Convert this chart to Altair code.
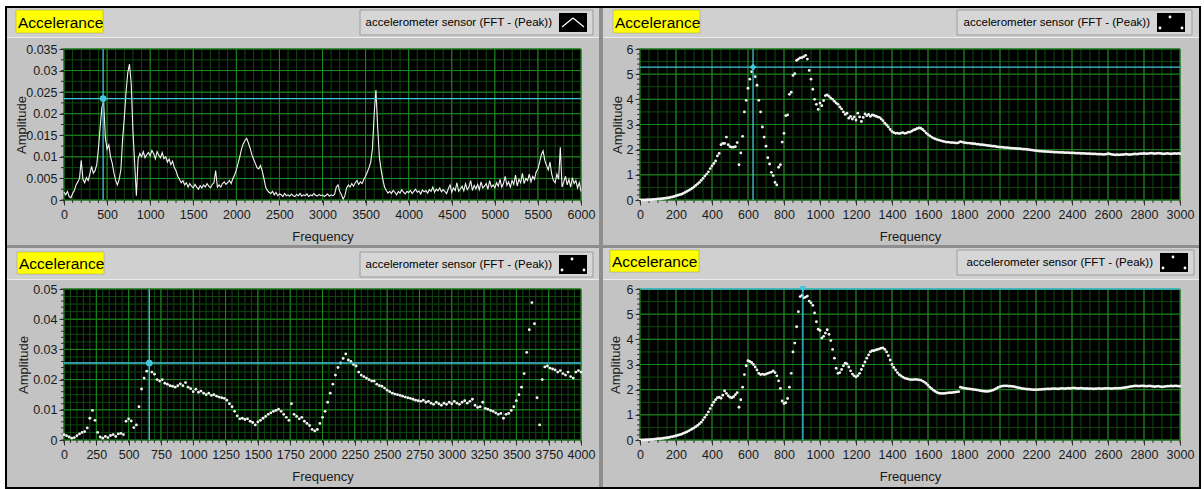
import altair as alt
import numpy as np
import pandas as pd

NARROW = "Liberation Sans, Arial, sans-serif"
SANS = "Liberation Sans, Arial, sans-serif"

# ---------------- data ----------------
# top-left: continuous FFT line, 0..6000 Hz every 20 Hz
TL_STEP = 20
TL_AMP = [
    0.0018, 0.0012, 0.0020, 0.0008, 0.0005, 0.0015, 0.0022, 0.0035, 0.0042, 0.0050,
    0.0092, 0.0048, 0.0040, 0.0052, 0.0045, 0.0060, 0.0078, 0.0062, 0.0068, 0.0082,
    0.0120, 0.0170, 0.0215, 0.0228, 0.0145, 0.0118, 0.0128, 0.0100, 0.0085, 0.0062,
    0.0045, 0.0035, 0.0048, 0.0070, 0.0140, 0.0190, 0.0250, 0.0295, 0.0315, 0.0270,
    0.0160, 0.0085, 0.0010, 0.0095, 0.0108, 0.0100, 0.0112, 0.0098, 0.0105, 0.0110,
    0.0102, 0.0115, 0.0108, 0.0095, 0.0112, 0.0104, 0.0098, 0.0110, 0.0096, 0.0100,
    0.0088, 0.0095, 0.0082, 0.0090, 0.0075, 0.0068, 0.0055, 0.0048, 0.0040, 0.0045,
    0.0035, 0.0040, 0.0030, 0.0038, 0.0032, 0.0028, 0.0036, 0.0030, 0.0025, 0.0033,
    0.0028, 0.0035, 0.0030, 0.0038, 0.0032, 0.0028, 0.0036, 0.0040, 0.0068, 0.0030,
    0.0035, 0.0030, 0.0038, 0.0042, 0.0036, 0.0040, 0.0045, 0.0038, 0.0050, 0.0058,
    0.0070, 0.0085, 0.0100, 0.0118, 0.0130, 0.0138, 0.0143, 0.0132, 0.0120, 0.0105,
    0.0095, 0.0085, 0.0075, 0.0072, 0.0080, 0.0068, 0.0050, 0.0030, 0.0022, 0.0018,
    0.0015, 0.0020, 0.0012, 0.0018, 0.0010, 0.0014, 0.0012, 0.0008, 0.0015, 0.0010,
    0.0012, 0.0009, 0.0014, 0.0010, 0.0008, 0.0013, 0.0010, 0.0015, 0.0009, 0.0012,
    0.0010, 0.0014, 0.0008, 0.0012, 0.0010, 0.0015, 0.0011, 0.0009, 0.0013, 0.0010,
    0.0012, 0.0008, 0.0011, 0.0014, 0.0009, 0.0012, 0.0010, 0.0013, 0.0030, 0.0035,
    0.0020, 0.0012, 0.0002, 0.0010, 0.0028, 0.0035, 0.0030, 0.0038, 0.0032, 0.0040,
    0.0045, 0.0036, 0.0042, 0.0038, 0.0048, 0.0055, 0.0065, 0.0075, 0.0088, 0.0120,
    0.0200, 0.0255, 0.0170, 0.0100, 0.0070, 0.0048, 0.0030, 0.0022, 0.0016, 0.0020,
    0.0015, 0.0022, 0.0018, 0.0012, 0.0020, 0.0016, 0.0024, 0.0018, 0.0014, 0.0020,
    0.0017, 0.0022, 0.0015, 0.0020, 0.0025, 0.0018, 0.0021, 0.0014, 0.0023, 0.0019,
    0.0022, 0.0016, 0.0024, 0.0020, 0.0030, 0.0018, 0.0025, 0.0021, 0.0028, 0.0019,
    0.0024, 0.0020, 0.0015, 0.0026, 0.0035, 0.0018, 0.0028, 0.0022, 0.0040, 0.0020,
    0.0026, 0.0032, 0.0021, 0.0038, 0.0024, 0.0030, 0.0045, 0.0022, 0.0034, 0.0026,
    0.0036, 0.0024, 0.0042, 0.0028, 0.0032, 0.0038, 0.0025, 0.0045, 0.0030, 0.0035,
    0.0028, 0.0040, 0.0032, 0.0048, 0.0030, 0.0038, 0.0055, 0.0034, 0.0042, 0.0030,
    0.0045, 0.0036, 0.0058, 0.0032, 0.0048, 0.0040, 0.0062, 0.0038, 0.0050, 0.0045,
    0.0060, 0.0042, 0.0055, 0.0048, 0.0065, 0.0072, 0.0088, 0.0105, 0.0114, 0.0092,
    0.0080, 0.0070, 0.0088, 0.0060, 0.0045, 0.0040, 0.0060, 0.0048, 0.0122, 0.0030,
    0.0042, 0.0055, 0.0035, 0.0048, 0.0030, 0.0052, 0.0038, 0.0045, 0.0028, 0.0040,
    0.0020,
]

# top-right: dots, 0..3000 Hz every 10 Hz
TR_STEP = 10
TR_AMP = [
    0.00, 0.00, 0.00, 0.00, 0.01, 0.01, 0.01, 0.02, 0.02, 0.03,
    0.04, 0.04, 0.05, 0.06, 0.07, 0.08, 0.09, 0.11, 0.12, 0.14,
    0.17, 0.19, 0.21, 0.23, 0.26, 0.30, 0.34, 0.38, 0.42, 0.47,
    0.52, 0.58, 0.64, 0.70, 0.78, 0.86, 0.95, 1.03, 1.12, 1.25,
    1.35, 1.45, 1.55, 1.75, 1.85, 2.20, 2.25, 2.25, 2.50, 2.20,
    2.12, 2.10, 2.10, 2.12, 2.28, 1.40, 1.87, 2.53, 3.50, 3.96,
    4.44, 4.80, 5.10, 5.25, 4.90, 4.56, 3.96, 3.50, 2.90, 2.50,
    2.14, 1.68, 1.43, 1.10, 0.97, 0.70, 0.60, 1.30, 1.40, 2.30,
    2.65, 3.35, 3.38, 4.20, 4.28, 4.95, 5.02, 5.55, 5.60, 5.65,
    5.66, 5.70, 5.75, 5.60, 5.15, 4.80, 4.40, 4.00, 3.80, 3.60,
    3.85, 3.75, 3.95, 4.15, 4.18, 4.12, 4.05, 4.00, 3.92, 3.85,
    3.80, 3.70, 3.62, 3.50, 3.40, 3.45, 3.25, 3.32, 3.22, 3.30,
    3.18, 3.45, 3.30, 3.12, 3.28, 3.42, 3.35, 3.40, 3.32, 3.38,
    3.36, 3.33, 3.30, 3.28, 3.22, 3.15, 3.05, 2.98, 2.90, 2.80,
    2.72, 2.68, 2.65, 2.66, 2.64, 2.66, 2.68, 2.65, 2.66, 2.70,
    2.70, 2.74, 2.78, 2.80, 2.84, 2.86, 2.85, 2.80, 2.74, 2.66,
    2.60, 2.55, 2.50, 2.46, 2.43, 2.40, 2.38, 2.36, 2.34, 2.32,
    2.30, 2.30, 2.29, 2.28, 2.28, 2.27, 2.26, 2.28, 2.32, 2.30,
    2.28, 2.27, 2.26, 2.26, 2.25, 2.24, 2.24, 2.22, 2.22, 2.20,
    2.20, 2.19, 2.18, 2.17, 2.16, 2.15, 2.14, 2.14, 2.12, 2.11,
    2.10, 2.10, 2.09, 2.08, 2.08, 2.07, 2.06, 2.06, 2.05, 2.05,
    2.04, 2.04, 2.03, 2.02, 2.02, 2.01, 2.00, 1.99, 1.98, 1.97,
    1.96, 1.95, 1.94, 1.94, 1.93, 1.93, 1.92, 1.92, 1.91, 1.91,
    1.90, 1.90, 1.90, 1.89, 1.89, 1.89, 1.88, 1.88, 1.88, 1.87,
    1.87, 1.87, 1.86, 1.86, 1.86, 1.85, 1.85, 1.85, 1.84, 1.84,
    1.84, 1.83, 1.83, 1.83, 1.82, 1.82, 1.82, 1.81, 1.81, 1.82,
    1.84, 1.83, 1.81, 1.80, 1.79, 1.80, 1.79, 1.80, 1.80, 1.81,
    1.82, 1.81, 1.80, 1.81, 1.82, 1.83, 1.82, 1.83, 1.84, 1.84,
    1.85, 1.84, 1.84, 1.85, 1.86, 1.85, 1.84, 1.85, 1.86, 1.85,
    1.84, 1.83, 1.84, 1.85, 1.84, 1.83, 1.84, 1.85, 1.84, 1.85,
    1.84,
]

# bottom-left: dots, 0..4000 Hz every 20 Hz
BL_STEP = 20
BL_AMP = [
    0.0018, 0.0014, 0.0010, 0.0006, 0.0008, 0.0014, 0.0020, 0.0025, 0.0028, 0.0040,
    0.0072, 0.0098, 0.0065, 0.0025, 0.0010, 0.0006, 0.0012, 0.0008, 0.0015, 0.0018,
    0.0012, 0.0020, 0.0022, 0.0018, 0.0062, 0.0070, 0.0063, 0.0041, 0.0050, 0.0110,
    0.0169, 0.0205, 0.0228, 0.0253, 0.0225, 0.0218, 0.0200, 0.0195, 0.0200, 0.0188,
    0.0185, 0.0180, 0.0178, 0.0175, 0.0180, 0.0186, 0.0180, 0.0190, 0.0175, 0.0170,
    0.0160, 0.0168, 0.0158, 0.0162, 0.0155, 0.0150, 0.0155, 0.0148, 0.0150, 0.0145,
    0.0142, 0.0140, 0.0138, 0.0132, 0.0120, 0.0110, 0.0095, 0.0080, 0.0070, 0.0072,
    0.0068, 0.0070, 0.0062, 0.0058, 0.0050, 0.0060, 0.0065, 0.0072, 0.0078, 0.0085,
    0.0090, 0.0095, 0.0098, 0.0102, 0.0095, 0.0085, 0.0075, 0.0065, 0.0120, 0.0085,
    0.0078, 0.0070, 0.0075, 0.0062, 0.0055, 0.0048, 0.0035, 0.0030, 0.0035, 0.0055,
    0.0075, 0.0095, 0.0125, 0.0155, 0.0185, 0.0215, 0.0240, 0.0255, 0.0270, 0.0285,
    0.0265, 0.0260, 0.0250, 0.0245, 0.0225, 0.0215, 0.0210, 0.0205, 0.0200, 0.0195,
    0.0195, 0.0185, 0.0180, 0.0178, 0.0172, 0.0165, 0.0160, 0.0155, 0.0152, 0.0150,
    0.0148, 0.0145, 0.0142, 0.0140, 0.0138, 0.0135, 0.0132, 0.0130, 0.0128, 0.0132,
    0.0125, 0.0128, 0.0122, 0.0118, 0.0125, 0.0120, 0.0115, 0.0122, 0.0118, 0.0125,
    0.0120, 0.0128, 0.0122, 0.0118, 0.0125, 0.0130, 0.0122, 0.0128, 0.0135, 0.0115,
    0.0108, 0.0110, 0.0125, 0.0105, 0.0102, 0.0098, 0.0095, 0.0090, 0.0085, 0.0088,
    0.0072, 0.0085, 0.0088, 0.0098, 0.0110, 0.0130, 0.0150, 0.0175, 0.0220, 0.0290,
    0.0365, 0.0455, 0.0385, 0.0140, 0.0050, 0.0200, 0.0242, 0.0245, 0.0238, 0.0235,
    0.0232, 0.0225, 0.0230, 0.0220, 0.0215, 0.0225, 0.0210, 0.0205, 0.0225, 0.0230,
    0.0225,
]

# bottom-right: dots, 0..3000 Hz every 10 Hz
BR_STEP = 10
BR_AMP = [
    0.00, 0.00, 0.00, 0.01, 0.01, 0.01, 0.02, 0.02, 0.03, 0.04,
    0.05, 0.05, 0.06, 0.07, 0.08, 0.09, 0.10, 0.12, 0.13, 0.15,
    0.17, 0.19, 0.21, 0.23, 0.26, 0.29, 0.32, 0.36, 0.40, 0.44,
    0.48, 0.53, 0.58, 0.64, 0.71, 0.80, 0.90, 1.00, 1.12, 1.25,
    1.38, 1.50, 1.60, 1.68, 1.70, 1.66, 1.78, 1.95, 1.85, 1.76,
    1.70, 1.68, 1.72, 1.80, 1.88, 1.30, 1.60, 2.10, 2.60, 2.95,
    3.15, 3.12, 3.08, 3.00, 2.90, 2.78, 2.65, 2.60, 2.62, 2.60,
    2.62, 2.65, 2.68, 2.70, 2.75, 2.68, 2.55, 2.35, 2.05, 1.55,
    1.45, 1.48, 1.65, 2.10, 2.65, 3.50, 3.85, 4.50, 5.10, 5.70,
    5.75, 5.65, 5.68, 5.72, 5.52, 5.45, 5.35, 5.05, 4.70, 4.40,
    4.35, 4.05, 4.12, 4.25, 4.38, 4.20, 3.95, 3.60, 3.25, 2.85,
    2.65, 2.68, 2.80, 2.95, 3.05, 3.02, 2.90, 2.75, 2.62, 2.55,
    2.50, 2.56, 2.65, 2.80, 2.95, 3.10, 3.25, 3.38, 3.50, 3.55,
    3.55, 3.58, 3.60, 3.62, 3.65, 3.66, 3.60, 3.50, 3.35, 3.18,
    3.00, 2.88, 2.78, 2.68, 2.60, 2.55, 2.50, 2.46, 2.44, 2.42,
    2.40, 2.40, 2.40, 2.41, 2.40, 2.39, 2.38, 2.34, 2.30, 2.25,
    2.18, 2.10, 2.04, 1.98, 1.93, 1.89, 1.86, 1.85, 1.85, 1.85,
    1.86, 1.87, 1.88, 1.88, 1.89, 1.90, 1.91, 1.92, 2.10, 2.08,
    2.06, 2.05, 2.04, 2.03, 2.02, 2.01, 2.00, 1.99, 1.98, 1.96,
    1.95, 1.94, 1.93, 1.93, 1.94, 1.96, 1.98, 2.01, 2.05, 2.09,
    2.12, 2.14, 2.15, 2.15, 2.15, 2.14, 2.14, 2.13, 2.12, 2.10,
    2.08, 2.07, 2.05, 2.04, 2.03, 2.02, 2.02, 2.01, 2.00, 2.00,
    2.00, 2.00, 2.01, 2.01, 2.02, 2.02, 2.03, 2.03, 2.03, 2.04,
    2.04, 2.04, 2.03, 2.04, 2.05, 2.05, 2.04, 2.05, 2.06, 2.05,
    2.06, 2.07, 2.06, 2.05, 2.05, 2.06, 2.05, 2.04, 2.05, 2.04,
    2.04, 2.04, 2.03, 2.04, 2.04, 2.05, 2.04, 2.04, 2.05, 2.05,
    2.05, 2.05, 2.04, 2.05, 2.06, 2.05, 2.06, 2.06, 2.07, 2.08,
    2.09, 2.10, 2.12, 2.13, 2.14, 2.15, 2.15, 2.14, 2.15, 2.15,
    2.15, 2.14, 2.14, 2.15, 2.14, 2.13, 2.12, 2.13, 2.14, 2.12,
    2.11, 2.12, 2.13, 2.14, 2.14, 2.15, 2.14, 2.15, 2.15, 2.14,
    2.14,
]

# cursors (frequency, amplitude)
TL_CURSOR = [454, 0.0235]
TR_CURSOR = [628, 5.28]
BL_CURSOR = [660, 0.0255]
BR_CURSOR = [905, 6.0]

# axis ticks
TL_XT = list(range(0, 6001, 500))
TL_XMINOR = list(range(0, 6001, 100))
TL_YT = [0, 0.005, 0.01, 0.015, 0.02, 0.025, 0.03, 0.035]
TL_YMINOR = [round(i * 0.0025, 4) for i in range(15)]

TR_XT = list(range(0, 3001, 200))
TR_XMINOR = list(range(0, 3001, 50))
TR_YT = [0, 1, 2, 3, 4, 5, 6]
TR_YGRID = [i * 0.5 for i in range(13)]
TR_YMINOR = [round(i * 0.2, 2) for i in range(31)]

BL_XT = list(range(0, 4001, 250))
BL_XMINOR = list(range(0, 4001, 50))
BL_YT = [0, 0.01, 0.02, 0.03, 0.04, 0.05]
BL_YGRID = [round(i * 0.0025, 4) for i in range(21)]
BL_YMINOR = [round(i * 0.002, 3) for i in range(26)]

LEGEND_TEXT = "accelerometer sensor (FFT - (Peak))"

# ---------------- styling ----------------
PANEL_BG = "#c3c3c3"
STRIP_BG = "#d0d0d0"
GRID_MINOR = "#0f4a0f"
GRID_MAJOR = "#1e8a1e"
CURSOR = "#44c6de"
TEXT = "#1a1a1a"
DOT = "#f4f4f4"

ONE = pd.DataFrame({"k": [0]})


def series(step, amps):
    return pd.DataFrame({"f": np.arange(len(amps)) * step, "a": amps})


def rect(x1, y1, x2, y2, fill, **kw):
    return alt.Chart(ONE).mark_rect(fill=fill, **kw).encode(
        x=alt.value(x1), x2=alt.value(x2), y=alt.value(y1), y2=alt.value(y2))


def seg(x1, y1, x2, y2, color, width=1.0):
    return alt.Chart(ONE).mark_rule(color=color, strokeWidth=width).encode(
        x=alt.value(x1), x2=alt.value(x2), y=alt.value(y1), y2=alt.value(y2))


def dot(x, y, color, size):
    return alt.Chart(ONE).mark_circle(color=color, size=size, opacity=1).encode(
        x=alt.value(x), y=alt.value(y))


def label(x, y, text, font, size, align="left"):
    return alt.Chart(ONE).mark_text(text=text, font=font, fontSize=size, color="black",
                                    align=align, baseline="middle").encode(
        x=alt.value(x), y=alt.value(y))


def panel(df, kind, xdom, ydom, xt, xminor, yt, ygrid, yminor, cursor, marker,
          origin, W, H, prect, strip, accbox, legbox, icon, icon_kind, ytitle_x,
          back=None):
    ox, oy = origin

    def rx(v):
        return v - ox

    def ry(v):
        return v - oy

    xs = alt.Scale(domain=xdom, nice=False, zero=False)
    ys = alt.Scale(domain=ydom, nice=False, zero=False)
    xaxis = alt.Axis(values=xt, format="d", title="Frequency", grid=False, domain=False,
                     tickSize=5, tickColor="#303030", labelFont=NARROW, labelFontSize=12.5,
                     labelColor=TEXT, labelPadding=3, labelFlush=False, labelOverlap=False,
                     titleFont=NARROW, titleFontSize=13, titleFontWeight="normal",
                     titleColor=TEXT, titleY=36, titleX=W / 2, titleBaseline="middle",
                     titleAlign="center", zindex=1)
    yaxis = alt.Axis(values=yt, format="~g", title="Amplitude", grid=False, domain=False,
                     tickSize=5, tickColor="#303030", labelFont=NARROW, labelFontSize=12.5,
                     labelColor=TEXT, labelPadding=2, labelFlush=False, labelOverlap=False,
                     titleFont=NARROW, titleFontSize=13, titleFontWeight="normal",
                     titleColor=TEXT, titleX=ytitle_x, titleY=H / 2, titleAngle=-90,
                     titleBaseline="middle", titleAlign="center", zindex=1)

    def X():
        return alt.X("f:Q", scale=xs, axis=xaxis)

    def Y():
        return alt.Y("a:Q", scale=ys, axis=yaxis)

    layers = []
    if back is not None:
        layers += back
    # panel chrome
    layers.append(rect(rx(prect[0]), ry(prect[1]), rx(prect[2]), ry(prect[3]), PANEL_BG))
    layers.append(rect(rx(prect[0]), ry(prect[1]), rx(prect[2]), ry(strip), STRIP_BG))
    layers.append(seg(rx(prect[0]), ry(strip) + 0.5, rx(prect[2]), ry(strip) + 0.5, "#ececec", 1))
    # plot area
    layers.append(rect(0, 0, W, H, "#000000"))

    gx_minor = pd.DataFrame({"f": xminor})
    gx_major = pd.DataFrame({"f": xt})
    gy_minor = pd.DataFrame({"a": ygrid})
    gy_major = pd.DataFrame({"a": yt})
    ty_minor = pd.DataFrame({"a": yminor})

    layers.append(alt.Chart(gx_minor).mark_rule(color=GRID_MINOR, strokeWidth=1).encode(
        x=X(), y=alt.value(0), y2=alt.value(H)))
    layers.append(alt.Chart(gy_minor).mark_rule(color=GRID_MINOR, strokeWidth=1).encode(
        y=Y(), x=alt.value(0), x2=alt.value(W)))
    layers.append(alt.Chart(gx_major).mark_rule(color=GRID_MAJOR, strokeWidth=1).encode(
        x=X(), y=alt.value(0), y2=alt.value(H)))
    layers.append(alt.Chart(gy_major).mark_rule(color=GRID_MAJOR, strokeWidth=1).encode(
        y=Y(), x=alt.value(0), x2=alt.value(W)))
    # minor ticks outside the plot
    layers.append(alt.Chart(gx_minor).mark_rule(color="#303030", strokeWidth=1).encode(
        x=X(), y=alt.value(H), y2=alt.value(H + 3)))
    layers.append(alt.Chart(ty_minor).mark_rule(color="#303030", strokeWidth=1).encode(
        y=Y(), x=alt.value(-3), x2=alt.value(0)))

    # data
    if kind == "line":
        layers.append(alt.Chart(df).mark_line(color=DOT, strokeWidth=1.1).encode(x=X(), y=Y()))
    else:
        layers.append(alt.Chart(df).mark_circle(color=DOT, size=8, opacity=1).encode(x=X(), y=Y()))

    # cursor
    cdf = pd.DataFrame({"f": [cursor[0]], "a": [cursor[1]]})
    layers.append(alt.Chart(cdf).mark_rule(color=CURSOR, strokeWidth=1.3).encode(
        x=X(), y=alt.value(0), y2=alt.value(H)))
    layers.append(alt.Chart(cdf).mark_rule(color=CURSOR, strokeWidth=1.3).encode(
        y=Y(), x=alt.value(0), x2=alt.value(W)))
    layers.append(alt.Chart(cdf).mark_point(shape=marker, filled=True, color=CURSOR,
                                            size=45, opacity=1).encode(x=X(), y=Y()))

    # "Accelerance" label
    layers.append(rect(rx(accbox[0]), ry(accbox[1]), rx(accbox[2]), ry(accbox[3]), "#ffff00",
                       stroke="#9a9a60", strokeWidth=0.5))
    layers.append(label(rx(accbox[0]) + 2, (ry(accbox[1]) + ry(accbox[3])) / 2 + 1,
                        "Accelerance", SANS, 15.5))
    # legend box
    layers.append(rect(rx(legbox[0]), ry(legbox[1]), rx(legbox[2]), ry(legbox[3]), "#d6d6d6",
                       stroke="#9c9c9c", strokeWidth=1))
    layers.append(label(rx(icon[0]) - 7, (ry(legbox[1]) + ry(legbox[3])) / 2,
                        LEGEND_TEXT, NARROW, 11.5, align="right"))
    layers.append(rect(rx(icon[0]), ry(icon[1]), rx(icon[2]), ry(icon[3]), "#000000"))
    ix0, iy0 = rx(icon[0]), ry(icon[1])
    if icon_kind == "line":
        layers.append(seg(ix0 + 3, iy0 + 14, ix0 + 14, iy0 + 5, "#ffffff", 1.2))
        layers.append(seg(ix0 + 14, iy0 + 5, ix0 + 25, iy0 + 14, "#ffffff", 1.2))
    else:
        layers.append(dot(ix0 + 13, iy0 + 4, "#ffffff", 8))
        layers.append(dot(ix0 + 3, iy0 + 15, "#ffffff", 8))
        layers.append(dot(ix0 + 25, iy0 + 15, "#ffffff", 8))

    return alt.layer(*layers).properties(width=W, height=H)


# ---------------- layout (absolute pixel positions of the frame) ----------------
TL_O = (64, 49)
W1, W2, H = 517, 540, 151

back_layers = [
    rect(0 - TL_O[0], 0 - TL_O[1], 1204 - TL_O[0], 489 - TL_O[1], "#ffffff"),
    rect(5 - TL_O[0], 6 - TL_O[1], 1201 - TL_O[0], 489 - TL_O[1], "#000000"),
    rect(7 - TL_O[0], 8 - TL_O[1], 1199 - TL_O[0], 487 - TL_O[1], "#8e8e8e"),
]

tl = panel(series(TL_STEP, TL_AMP), "line", [0, 6000], [0, 0.035], TL_XT, TL_XMINOR,
           TL_YT, TL_YMINOR, TL_YMINOR, TL_CURSOR, "circle",
           TL_O, W1, H, (7, 8, 599, 245), 37, (16, 10, 103, 33), (360, 10, 593, 35),
           (559, 13, 587, 32), "line", -43, back=back_layers)

tr = panel(series(TR_STEP, TR_AMP), "dots", [0, 3000], [0, 6], TR_XT, TR_XMINOR,
           TR_YT, TR_YGRID, TR_YMINOR, TR_CURSOR, "diamond",
           (640, 49), W2, H, (603, 8, 1199, 245), 37, (613, 10, 700, 33), (957, 10, 1192, 35),
           (1157, 13, 1185, 32), "dots", -23)

bl = panel(series(BL_STEP, BL_AMP), "dots", [0, 4000], [0, 0.05], BL_XT, BL_XMINOR,
           BL_YT, BL_YGRID, BL_YMINOR, BL_CURSOR, "circle",
           (64, 289), W1, H, (7, 248, 599, 487), 279, (17, 252, 104, 274), (360, 252, 593, 277),
           (559, 255, 587, 274), "dots", -41)

br = panel(series(BR_STEP, BR_AMP), "dots", [0, 3000], [0, 6], TR_XT, TR_XMINOR,
           TR_YT, TR_YGRID, TR_YMINOR, BR_CURSOR, "triangle-down",
           (640, 289), W2, H, (603, 248, 1199, 487), 279, (610, 250, 699, 272), (957, 250, 1194, 275),
           (1160, 253, 1188, 272), "dots", -25)

chart = alt.concat(
    tl, tr, bl, br, columns=2, spacing={"row": 89, "column": 36},
    bounds="flush", align="all",
).properties(padding=0).configure(background="white").configure_view(strokeWidth=0)

chart.save("out.html", embed_options={"renderer": "svg", "actions": False})
